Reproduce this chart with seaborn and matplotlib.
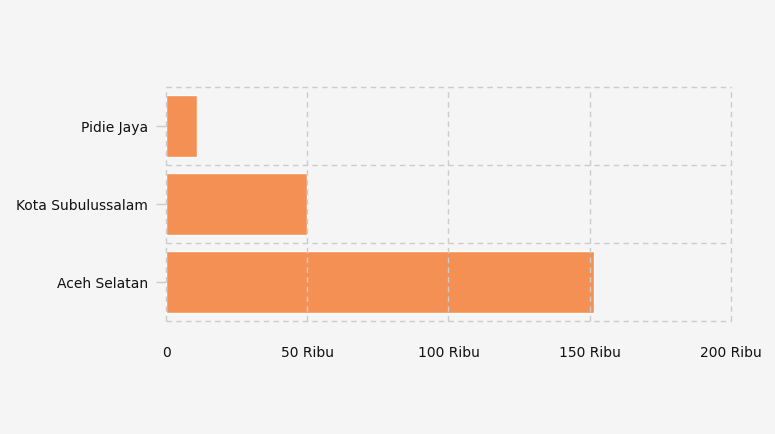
import numpy as np
import pandas as pd
import matplotlib
matplotlib.use('Agg')
import matplotlib.pyplot as plt
import seaborn as sns
from matplotlib.ticker import FuncFormatter, MultipleLocator

# Data
wilayah = ['Pidie Jaya', 'Kota Subulussalam', 'Aceh Selatan']
nilai = [10800, 49800, 151500]

df = pd.DataFrame({'Wilayah': wilayah, 'Nilai': nilai})

sns.set_theme(style='white')
plt.rcParams['font.family'] = ['DejaVu Sans']

fig = plt.figure(figsize=(7.75, 4.35), dpi=100, facecolor='#f5f5f5')
ax = fig.add_axes([0.2142, 0.2598, 0.7290, 0.5379])
ax.set_facecolor('#f5f5f5')

sns.barplot(data=df, x='Nilai', y='Wilayah', color='#f58b4c', alpha=0.95,
            width=0.8, saturation=1, ax=ax, zorder=1)

ax.set_xlim(0, 200000)
ax.set_ylim(2.5, -0.5)
ax.xaxis.set_major_locator(MultipleLocator(50000))
ax.xaxis.set_major_formatter(FuncFormatter(
    lambda v, p: '0' if v == 0 else f'{int(v/1000)} Ribu'))

# grid: vertical at ticks, horizontal at category boundaries
dash = (0, (4, 3))
ax.set_yticks([0.5, 1.5], minor=True)
ax.grid(axis='x', which='major', color='#cccccc', linestyle=dash, linewidth=1, zorder=0)
ax.grid(axis='y', which='minor', color='#cccccc', linestyle=dash, linewidth=1, zorder=0)
ax.grid(axis='y', which='major', visible=False)
for y in [-0.5, 2.5]:
    ax.axhline(y, color='#cccccc', linestyle=dash, linewidth=1, zorder=0, clip_on=False)
for gl in ax.get_xgridlines():
    gl.set_clip_on(False)
ax.set_axisbelow(False)

for s in ax.spines.values():
    s.set_visible(False)

ax.set_xlabel('')
ax.set_ylabel('')
ax.tick_params(axis='x', length=0, pad=17, labelsize=10, colors='#111111')
ax.tick_params(axis='y', which='major', length=7, width=1, color='#cccccc',
               pad=6, labelsize=10, labelcolor='#111111', left=True)
ax.tick_params(axis='y', which='minor', length=0)

fig.savefig('out.png', dpi=100, facecolor=fig.get_facecolor())
